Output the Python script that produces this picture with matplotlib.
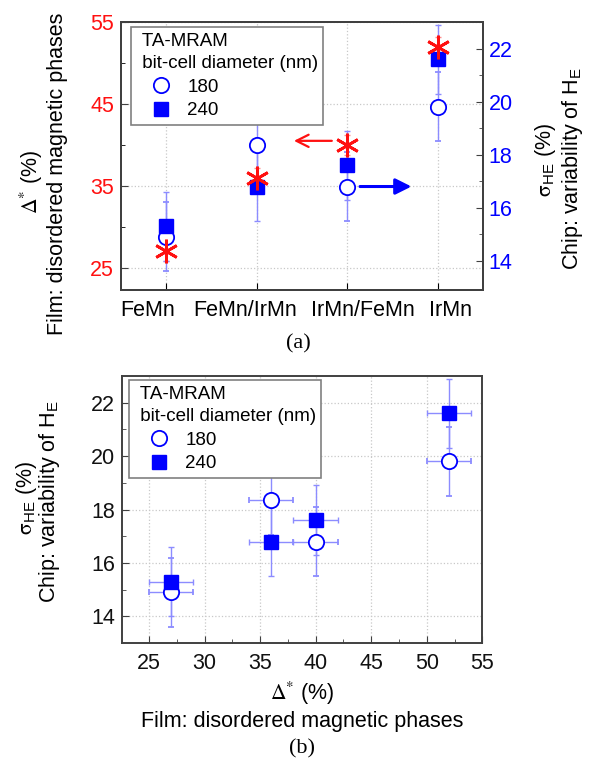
import numpy as np
import matplotlib
matplotlib.use("Agg")
import matplotlib.pyplot as plt
from matplotlib.lines import Line2D
from matplotlib.transforms import ScaledTranslation

plt.rcParams['font.family'] = ['Liberation Sans', 'DejaVu Sans']
plt.rcParams['mathtext.fontset'] = 'stix'
plt.rcParams['font.size'] = 15.5

# data
materials = ['FeMn', 'FeMn/IrMn', 'IrMn/FeMn', 'IrMn']
delta = [27, 36, 40, 52]          # Delta* (%)
delta_yerr = [1.2, 1.2, 1.2, 1.2]
delta_xerr = [2, 2, 2, 2]
sigma_180 = [14.9, 18.35, 16.8, 19.8]   # sigma_HE (%) for 180 nm
sigma_240 = [15.3, 16.8, 17.6, 21.6]    # sigma_HE (%) for 240 nm
sigma_err = [1.3, 1.3, 1.3, 1.3]
sizes = ['180', '240']

W, H = 596, 760
blue = '#0000ff'
red = '#ff1010'
ebar_blue = '#8c8cff'
ebar_red = '#ff8c8c'
spine_col = '#404040'

lbl_sigma = r'$\mathrm{\sigma}_{\mathregular{HE}}$ (%)'
lbl_chip = r'Chip: variability of H$_{\mathregular{E}}$'
lbl_delta = r'$\Delta^{*}$ (%)'
lbl_film = 'Film: disordered magnetic phases'


def px(x, y):
    return x / W, 1 - y / H


def vtext(x, y, s, **kw):
    # rotated label, x is the baseline position in pixels
    fig.text(*px(x, y), s, rotation=90, rotation_mode='anchor',
             ha='center', va='baseline', **kw)


def htext(x, y, s, **kw):
    fig.text(*px(x, y), s, ha='center', va='baseline', **kw)


def style_spines(ax):
    for s in ax.spines.values():
        s.set_color(spine_col)
        s.set_linewidth(1.4)


def add_legend(ax, anchor):
    handles = [
        Line2D([], [], ls='none', marker='o', ms=11, mfc='white', mec=blue, mew=1.3),
        Line2D([], [], ls='none', marker='s', ms=10.5, mfc=blue, mec=blue),
    ]
    leg = ax.legend(handles, sizes, title=' TA-MRAM\n bit-cell diameter (nm)',
                    alignment='left', loc='upper left', bbox_to_anchor=anchor,
                    borderaxespad=0, fontsize=13.5, title_fontsize=13.5,
                    fancybox=False, framealpha=1, edgecolor='#808080',
                    labelspacing=0.35, handletextpad=0.1, borderpad=0.3,
                    handlelength=2.6)
    leg.get_title().set_linespacing(1.42)
    leg.get_frame().set_linewidth(1.2)
    leg.set_zorder(20)
    return leg


fig = plt.figure(figsize=(W / 100, H / 100), dpi=100)

# ---------------- panel (a) ----------------
ax1 = fig.add_axes([121 / W, 1 - 290 / H, 362 / W, 268 / H])
ax2 = ax1.twinx()

x = np.arange(len(materials))
ax1.errorbar(x, delta, yerr=delta_yerr, fmt='none', ecolor=ebar_red,
             elinewidth=1, capsize=2)
ax2.errorbar(x, sigma_180, yerr=sigma_err, fmt='o', ms=11, mfc='white', mec=blue,
             mew=1.3, ecolor=ebar_blue, elinewidth=1, capsize=2)
ax2.errorbar(x, sigma_240, yerr=sigma_err, fmt='s', ms=10.5, mfc=blue, mec=blue,
             ecolor=ebar_blue, elinewidth=1, capsize=2)
# asterisks on top, still on the left (Delta*) scale
ax2.plot(x, delta, ls='none', marker=(6, 2, 0), ms=17, mec=red, mew=2,
         transform=ax1.transData, zorder=5)

ax1.set_xlim(-0.5, 3.5)
ax1.set_ylim(22.3, 55)
ax2.set_ylim(12.9, 23)
ax1.set_xticks(x)
ax1.set_xticklabels(materials)
ax1.set_yticks([25, 35, 45, 55])
ax1.set_yticks([30, 40, 50], minor=True)
ax2.set_yticks([14, 16, 18, 20, 22])
ax2.set_yticks([15, 17, 19, 21], minor=True)
ax1.tick_params(axis='both', which='both', direction='in', top=False, right=False)
ax1.tick_params(axis='x', pad=7)
ax1.tick_params(axis='y', colors=spine_col, labelcolor=red, pad=5)
ax2.tick_params(axis='y', which='both', direction='in', colors=spine_col,
                labelcolor=blue, pad=4)
for a in (ax1, ax2):
    a.tick_params(which='major', length=5)
    a.tick_params(which='minor', length=3)
ax1.grid(True, ls=':', color='#c8c8c8', lw=0.9)
style_spines(ax1)
style_spines(ax2)

# category labels sit a little apart from their ticks in the original
label_shift = [-19, -12, 16, 13]
for lab, dx in zip(ax1.get_xticklabels(), label_shift):
    lab.set_transform(lab.get_transform() +
                      ScaledTranslation(dx / 100, 0, fig.dpi_scale_trans))

# arrows pointing to the relevant axis
ax2.annotate('', xy=(1.38, 40.5), xytext=(1.86, 40.5),
             xycoords=ax1.transData, textcoords=ax1.transData,
             arrowprops=dict(arrowstyle='->', color=red, lw=1.6, mutation_scale=22))
ax2.annotate('', xy=(2.74, 16.8), xytext=(2.11, 16.8),
             arrowprops=dict(arrowstyle='-|>', color=blue, lw=2.2, mutation_scale=24))

add_legend(ax2, ((131 - 121) / 362, 1 - (27 - 22) / 268))

vtext(38, 182, lbl_delta)
vtext(63, 174, lbl_film)
vtext(551, 160, lbl_sigma)
vtext(578, 169, lbl_chip)
htext(298, 348, '(a)', family='Liberation Serif', fontsize=16)

# ---------------- panel (b) ----------------
axb = fig.add_axes([122.3 / W, 1 - 643 / H, 360 / W, 267 / H])
axb.errorbar(delta, sigma_180, xerr=delta_xerr, yerr=sigma_err, fmt='o', ms=11,
             mfc='white', mec=blue, mew=1.3, ecolor=ebar_blue, elinewidth=1, capsize=2)
axb.errorbar(delta, sigma_240, xerr=delta_xerr, yerr=sigma_err, fmt='s', ms=10.5,
             mfc=blue, mec=blue, ecolor=ebar_blue, elinewidth=1, capsize=2)
axb.set_xlim(22.6, 55)
axb.set_ylim(13, 23)
axb.set_xticks([25, 30, 35, 40, 45, 50, 55])
axb.set_xticks(np.arange(27.5, 55, 5), minor=True)
axb.set_yticks([14, 16, 18, 20, 22])
axb.set_yticks([15, 17, 19, 21], minor=True)
axb.tick_params(axis='both', which='both', direction='in', top=False, right=False,
                colors=spine_col, labelcolor='#111111')
axb.tick_params(axis='x', pad=7)
axb.tick_params(axis='y', pad=5)
axb.tick_params(which='major', length=5)
axb.tick_params(which='minor', length=3)
axb.grid(True, ls=':', color='#c8c8c8', lw=0.9)
style_spines(axb)
add_legend(axb, ((129 - 122.3) / 360, 1 - (380 - 376) / 267))

vtext(32, 498, lbl_sigma)
vtext(55, 502, lbl_chip)
htext(302, 700, lbl_delta)
htext(302, 727, lbl_film)
htext(302, 753, '(b)', family='Liberation Serif', fontsize=16)

fig.savefig('out.png', dpi=100)
